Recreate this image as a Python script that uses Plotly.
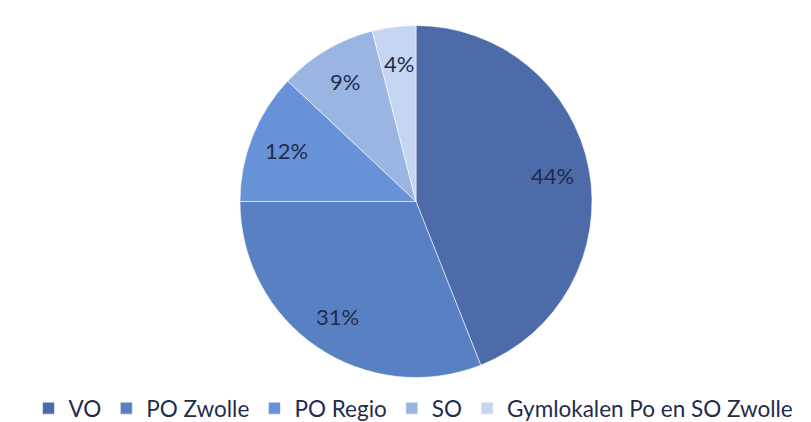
import math
import plotly.graph_objects as go

categories = ["VO", "PO Zwolle", "PO Regio", "SO", "Gymlokalen Po en SO Zwolle"]
values = [44, 31, 12, 9, 4]
colors = ["#4d6ba9", "#5a80c4", "#6792d8", "#9bb5e3", "#c6d6f2"]

W, H = 811, 422
cx, cy, r = 408, 193.5, 176
label_frac = 0.79
text_color = "#1f2c4c"
font_family = "Lato"

fig = go.Figure(go.Pie(
    labels=categories,
    values=values,
    sort=False,
    direction="clockwise",
    rotation=0,
    marker=dict(colors=colors, line=dict(width=0.8, color="rgba(255,255,255,0.7)")),
    textinfo="none",
    domain=dict(x=[(cx - r) / W, (cx + r) / W], y=[(H - cy - r) / H, (H - cy + r) / H]),
    hoverinfo="label+percent",
))

# data labels at mid-angle of each slice, derived from the values
total = sum(values)
cum = 0
annotations = []
for v in values:
    mid = (cum + v / 2) / total
    cum += v
    th = 2 * math.pi * mid
    px = cx + label_frac * r * math.sin(th)
    py = cy - label_frac * r * math.cos(th)
    annotations.append(dict(
        x=px / W, y=1 - py / H, xref="paper", yref="paper",
        text=f"{round(v / total * 100)}%", showarrow=False,
        font=dict(size=22, color=text_color, family=font_family),
        xanchor="center", yanchor="middle",
    ))

fig.update_layout(
    width=W, height=H,
    margin=dict(l=0, r=0, t=0, b=0),
    paper_bgcolor="white",
    showlegend=True,
    annotations=annotations,
    legend=dict(orientation="h", x=0.5, xanchor="center", y=0.0, yanchor="bottom",
                font=dict(size=22.5, color=text_color, family=font_family),
                itemwidth=30),
)

fig.write_html("out.html")
